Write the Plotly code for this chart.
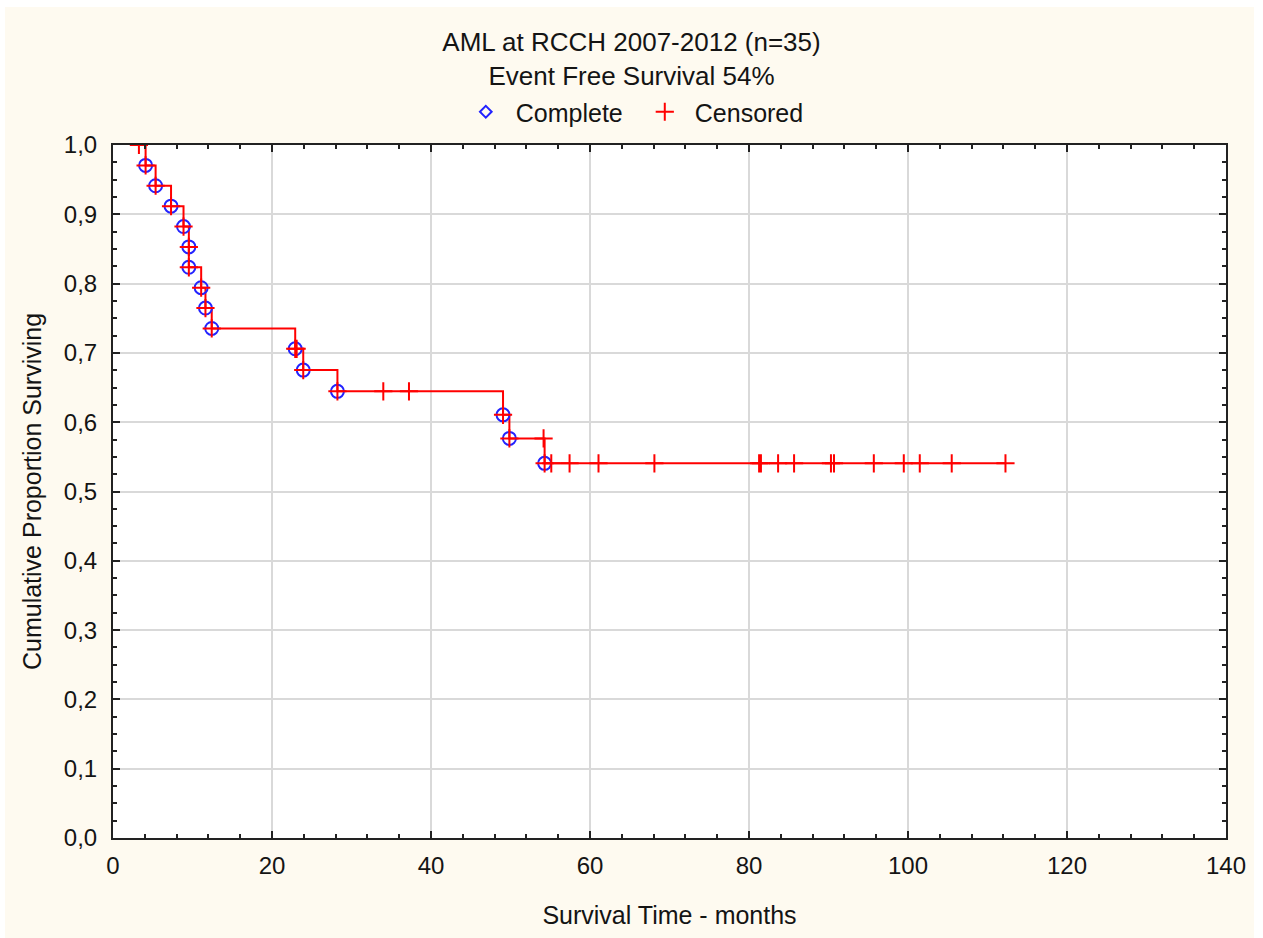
import plotly.graph_objects as go

# ---- data ----
times = [3.26,
         4.10, 5.36, 7.30, 8.87, 9.54, 9.54, 11.09, 11.63, 12.42,
         22.92, 23.10, 23.93, 28.23, 34.00, 37.23,
         49.06, 49.86, 54.16, 54.29,
         55.13, 57.43, 61.07, 68.10, 81.27, 81.50, 83.66, 85.67,
         90.31, 90.69, 95.70, 99.47, 101.48, 105.50, 112.26]
# 1 = complete (event), 0 = censored
status = [0,
          1, 1, 1, 1, 1, 1, 1, 1, 1,
          1, 0, 1, 1, 0, 0,
          1, 1, 0, 1,
          0, 0, 0, 0, 0, 0, 0, 0,
          0, 0, 0, 0, 0, 0, 0]

x_ticks = [0, 20, 40, 60, 80, 100, 120, 140]
title_lines = ["AML at RCCH 2007-2012 (n=35)", "Event Free Survival 54%"]

# ---- Kaplan-Meier estimate ----
n_risk = len(times)
S = 1.0
surv = []
for t, s in zip(times, status):
    if s == 1:
        S *= (n_risk - 1) / n_risk
    n_risk -= 1
    surv.append(S)

ev_x = [t for t, s in zip(times, status) if s == 1]
ev_y = [v for v, s in zip(surv, status) if s == 1]

RED = "#ff0000"
BLUE = "#2323ff"
TXT = "#141414"
AX = "#222222"
FONT = "Liberation Sans, Arial, sans-serif"

fig = go.Figure()
fig.add_trace(go.Scatter(x=times, y=surv, mode="lines", line=dict(color=RED, width=2, shape="hv"),
                         showlegend=False, hoverinfo="skip"))
fig.add_trace(go.Scatter(x=ev_x, y=ev_y, mode="markers",
                         marker=dict(symbol="circle-open", size=13, color=BLUE, line=dict(color=BLUE, width=2)),
                         showlegend=False))
fig.add_trace(go.Scatter(x=times, y=surv, mode="markers",
                         marker=dict(symbol="cross-thin", size=13, color=RED, line=dict(color=RED, width=2)),
                         showlegend=False))
# legend entries
fig.add_trace(go.Scatter(x=[None], y=[None], mode="markers", name="Complete",
                         marker=dict(symbol="diamond-open", size=9, color=BLUE, line=dict(color=BLUE, width=2))))
fig.add_trace(go.Scatter(x=[None], y=[None], mode="markers", name="Censored",
                         marker=dict(symbol="cross-thin", size=13, color=RED, line=dict(color=RED, width=2))))

W, H = 1263, 938
L, R, T, B = 113, 37, 145, 100
pw, ph = W - L - R, H - T - B

def px_x(p):
    return (p - L) / pw

def px_y(p):
    return (H - B - p) / ph

axis_common = dict(
    ticks="inside", ticklen=7, tickwidth=2, tickcolor=AX,
    showline=True, linecolor=AX, linewidth=2, mirror="ticks",
    showgrid=True, gridcolor="#d9d9d9", gridwidth=2, zeroline=False,
    automargin=False,
    tickfont=dict(size=24, color=TXT, family=FONT),
)

fig.update_layout(
    width=W, height=H,
    margin=dict(l=L, r=R, t=T, b=B, autoexpand=False),
    paper_bgcolor="#fefaf0",
    plot_bgcolor="#ffffff",
    separators=", ",
    font=dict(family=FONT, color=TXT, size=25),
    title=dict(text="<br>".join(title_lines), x=0.5, xref="container", xanchor="center",
               y=1 - 51 / H, yref="container", yanchor="top",
               font=dict(size=26, color=TXT, family=FONT)),
    legend=dict(orientation="h", x=0.5026, xref="container", xanchor="center",
                y=1 - 112 / H, yref="container", yanchor="middle",
                bgcolor="rgba(0,0,0,0)", font=dict(size=25, color=TXT, family=FONT),
                itemwidth=50, entrywidth=114, tracegroupgap=0),
    xaxis=dict(range=[0, 140], tickmode="array", tickvals=x_ticks, ticklabelstandoff=5,
               minor=dict(dtick=4, tick0=0, ticks="inside", ticklen=4, tickwidth=1.5, tickcolor=AX, showgrid=False),
               title=dict(text="Survival Time - months", standoff=29,
                          font=dict(size=25, color=TXT, family=FONT)),
               **axis_common),
    yaxis=dict(range=[0, 1], dtick=0.1, tick0=0, tickformat=".1f", ticklabelstandoff=9,
               minor=dict(dtick=0.025, tick0=0, ticks="inside", ticklen=4, tickwidth=1.5, tickcolor=AX, showgrid=False),
               title=dict(text="Cumulative Proportion Surviving", standoff=15,
                          font=dict(size=25, color=TXT, family=FONT)),
               **axis_common),
    shapes=[
        dict(type="rect", xref="paper", yref="paper", x0=-0.2, x1=1.2, y0=px_y(7), y1=1.4,
             fillcolor="#ffffff", line=dict(width=0), layer="below"),
        dict(type="rect", xref="paper", yref="paper", x0=-0.2, x1=px_x(5), y0=-0.3, y1=1.4,
             fillcolor="#ffffff", line=dict(width=0), layer="below"),
        dict(type="rect", xref="paper", yref="paper", x0=px_x(1254), x1=1.2, y0=-0.3, y1=1.4,
             fillcolor="#ffffff", line=dict(width=0), layer="below"),
    ],
)

fig.write_html("out.html", config={"displayModeBar": False},
               post_script="document.body.style.margin='0px';")
